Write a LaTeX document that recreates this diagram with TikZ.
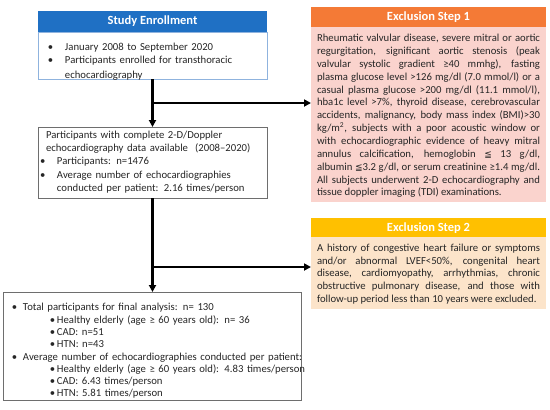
\documentclass[tikz,border=0pt]{standalone}
\usepackage{fontspec}
\setmainfont{Carlito}
\newfontfamily\symf{DejaVu Sans}
\usetikzlibrary{arrows.meta}
\definecolor{hdblue}{HTML}{1F70C4}
\definecolor{bdblue}{HTML}{8FB3DE}
\definecolor{hdorange}{HTML}{F47A36}
\definecolor{bdpink}{HTML}{FAD3CD}
\definecolor{hdgold}{HTML}{FFC000}
\definecolor{bdpeach}{HTML}{FCE4CA}
\definecolor{txt}{HTML}{262626}
\definecolor{bxgray}{HTML}{6E6E6E}
\newcommand{\bitem}[3]{\par\noindent\hangindent=#2\hangafter=1\makebox[#2][l]{\hspace*{#1}\textbullet}#3}
\newcommand{\nl}[1][0pt]{\hfil\vadjust{\vskip#1}\break}
\newcommand{\jl}[1]{\hbox to 223pt{#1}}
\newcommand{\myle}{{\symf\fontsize{9}{10}\selectfont ≦}}
\begin{document}
\begin{tikzpicture}[x=1pt,y=-1pt,
  every node/.style={inner sep=0pt, outer sep=0pt},
  hdr/.style={anchor=north west, text=white, font=\fontsize{12.5}{14}\selectfont\bfseries, minimum width=235, minimum height=20},
  panel/.style={anchor=north west},
  lst/.style={anchor=north west, text=txt, font=\fontsize{10.7}{12.3}\selectfont, align=left},
  jtext/.style={text=txt, font=\fontsize{10.7}{12.85}\selectfont},
  arr/.style={line width=2.2pt, -{Triangle[length=7pt,width=7pt]}}
]
\useasboundingbox (0,0) rectangle (550,410);

% Study enrollment
\node[hdr, fill=hdblue, minimum width=229, minimum height=21] (enh) at (38,11) {Study Enrollment};
\node[panel, draw=bdblue, line width=0.9pt, fill=white, minimum width=229, minimum height=47] (enb) at (38,32) {};
\node[lst, text width=215] (ent) at (48,38.5) {\bitem{0pt}{17pt}{January 2008 to September 2020}\bitem{0pt}{17pt}{Participants enrolled for transthoracic\nl[3.5pt]echocardiography}\par};

% second box
\node[panel, draw=bxgray, line width=0.7pt, fill=white, minimum width=229, minimum height=71] (bx2) at (38,127) {};
\node[lst, text width=225, font=\fontsize{10.7}{13.2}\selectfont] (bx2t) at (40,131) {\noindent\hspace*{6pt}Participants with complete 2-D/Doppler\par\noindent\hspace*{6pt}echocardiography data available~ (2008–2020)\bitem{0pt}{17pt}{Participants: n=1476}\bitem{0pt}{17pt}{Average number of echocardiographies\nl conducted per patient: 2.16 times/person}\par};

% final box
\node[panel, draw=bxgray, line width=0.7pt, fill=white, minimum width=298, minimum height=108] (fin) at (3,292) {};
\node[lst, text width=300] (fint) at (12,298.5) {%
\bitem{0pt}{11pt}{Total participants for final analysis: n= 130}%
\bitem{38pt}{45pt}{Healthy elderly (age ≥ 60 years old): n= 36}%
\bitem{38pt}{45pt}{CAD: n=51}%
\bitem{38pt}{45pt}{HTN: n=43}%
\bitem{0pt}{11pt}{Average number of echocardiographies conducted per patient:}%
\bitem{38pt}{45pt}{Healthy elderly (age ≥ 60 years old): 4.83 times/person}%
\bitem{38pt}{45pt}{CAD: 6.43 times/person}%
\bitem{38pt}{45pt}{HTN: 5.81 times/person}\par};

% exclusion step 1
\node[hdr, fill=hdorange] (e1h) at (311,7) {Exclusion Step 1};
\node[panel, fill=bdpink, minimum width=235, minimum height=175] (e1b) at (311,27) {};
\node[jtext] (e1t) at ([yshift=-1.5pt]e1b.center) {\vbox{%
\jl{Rheumatic valvular disease, severe mitral or aortic}
\jl{regurgitation, significant aortic stenosis (peak}
\jl{valvular systolic gradient ≥40 mmhg), fasting}
\jl{plasma glucose level >126 mg/dl (7.0 mmol/l) or a}
\jl{casual plasma glucose >200 mg/dl (11.1 mmol/l),}
\jl{hba1c level >7\%, thyroid disease, cerebrovascular}
\jl{accidents, malignancy, body mass index (BMI)>30}
\jl{kg/m\textsuperscript{2}, subjects with a poor acoustic window or}
\jl{with echocardiographic evidence of heavy mitral}
\jl{annulus calcification, hemoglobin \myle\ 13 g/dl,}
\jl{albumin \myle3.2 g/dl, or serum creatinine ≥1.4 mg/dl.}
\jl{All subjects underwent 2-D echocardiography and}
\hbox to 223pt{tissue doppler imaging (TDI) examinations.\hfill}}};

% exclusion step 2
\node[hdr, fill=hdgold] (e2h) at (311,218) {Exclusion Step 2};
\node[panel, fill=bdpeach, minimum width=235, minimum height=72] (e2b) at (311,237) {};
\node[jtext] (e2t) at ([yshift=-1pt]e2b.center) {\vbox{%
\jl{A history of congestive heart failure or symptoms}
\jl{and/or abnormal LVEF<50\%, congenital heart}
\jl{disease, cardiomyopathy, arrhythmias, chronic}
\jl{obstructive pulmonary disease, and those with}
\hbox to 223pt{follow-up period less than 10 years were excluded.\hfill}}};

% connectors
\coordinate (br1) at (152.5,103);
\coordinate (br2) at (152.5,267);
\draw[arr] (enb.south) -- (bx2.north);
\draw[arr] (br1) -- (br1 -| e1b.west);
\draw[arr] (bx2.south) -- (bx2.south |- fin.north);
\draw[arr] (br2) -- (br2 -| e2b.west);
\end{tikzpicture}
\end{document}
